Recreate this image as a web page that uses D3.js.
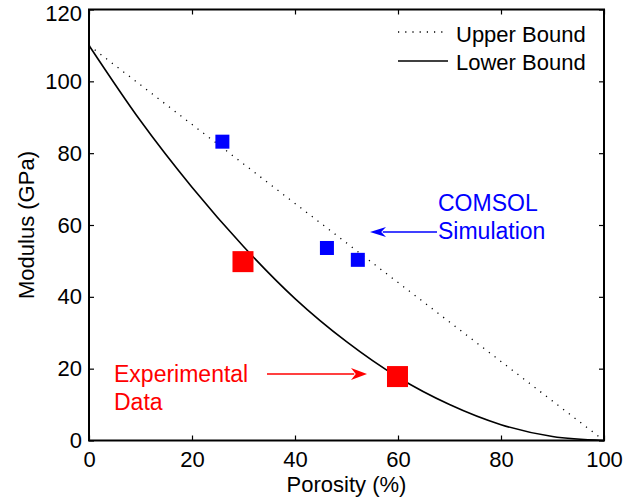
<!DOCTYPE html>
<html>
<head>
<meta charset="utf-8">
<script src="https://cdn.jsdelivr.net/npm/d3@7"></script>
<style>
  html, body { margin: 0; padding: 0; background: #fff; }
  svg { display: block; }
  text { font-family: "Liberation Sans", Arial, Helvetica, sans-serif; }
</style>
</head>
<body>
<svg id="chart" width="641" height="499"></svg>
<script>
// ---- data ----
const xTicks = [0, 20, 40, 60, 80, 100];
const yTicks = [0, 20, 40, 60, 80, 100, 120];
const upperPorosity = [0, 100];
const upperModulus = [110, 0];
const lowerPorosity = [0, 10, 20, 30, 40, 50, 60, 70, 80, 90, 100];
const lowerModulus = [110, 89, 70.5, 54, 39.5, 27.5, 17.6, 10, 4.4, 1.1, 0];
const simPorosity = [25.9, 46.2, 52.2];
const simModulus = [83.2, 53.6, 50.3];
const expPorosity = [29.9, 59.9];
const expModulus = [49.8, 17.8];
const legendLabels = ["Upper Bound", "Lower Bound"];

// ---- layout ----
const svg = d3.select("#chart");
const m = { left: 89, right: 604, top: 9.5, bottom: 440.5 };
const x = d3.scaleLinear().domain([0, 100]).range([m.left, m.right]);
const y = d3.scaleLinear().domain([0, 120]).range([m.bottom, m.top]);
const FS = 22;
const AFS = 23;

// curves
const line = d3.line().x(d => x(d[0])).y(d => y(d[1]));
svg.append("path")
  .datum(d3.zip(upperPorosity, upperModulus))
  .attr("d", line)
  .attr("fill", "none").attr("stroke", "#000").attr("stroke-width", 1.3)
  .attr("stroke-dasharray", "1.2,6");
svg.append("path")
  .datum(d3.zip(lowerPorosity, lowerModulus))
  .attr("d", line.curve(d3.curveMonotoneX))
  .attr("fill", "none").attr("stroke", "#000").attr("stroke-width", 1.6);

// markers
const simSize = 14, expSize = 21;
svg.selectAll("rect.sim").data(d3.zip(simPorosity, simModulus)).join("rect")
  .attr("class", "sim")
  .attr("x", d => x(d[0]) - simSize / 2).attr("y", d => y(d[1]) - simSize / 2)
  .attr("width", simSize).attr("height", simSize).attr("fill", "#0000ff");
svg.selectAll("rect.exp").data(d3.zip(expPorosity, expModulus)).join("rect")
  .attr("class", "exp")
  .attr("x", d => x(d[0]) - expSize / 2).attr("y", d => y(d[1]) - expSize / 2)
  .attr("width", expSize).attr("height", expSize).attr("fill", "#ff0000");

// axes (MATLAB box with inner ticks)
const tl = 5;
const gB = svg.append("g").attr("transform", `translate(0,${m.bottom})`)
  .call(d3.axisBottom(x).tickValues(xTicks).tickSize(-tl).tickPadding(11));
const gT = svg.append("g").attr("transform", `translate(0,${m.top})`)
  .call(d3.axisTop(x).tickValues(xTicks).tickSize(-tl).tickFormat(""));
const gL = svg.append("g").attr("transform", `translate(${m.left},0)`)
  .call(d3.axisLeft(y).tickValues(yTicks).tickSize(-tl).tickPadding(7));
const gR = svg.append("g").attr("transform", `translate(${m.right},0)`)
  .call(d3.axisRight(y).tickValues(yTicks).tickSize(-tl).tickFormat(""));
[gB, gT, gL, gR].forEach(g => {
  g.select(".domain").remove();
  g.selectAll(".tick line").attr("stroke", "#000").attr("stroke-width", 1.2);
  g.selectAll("text").attr("font-size", FS).attr("fill", "#000")
    .attr("font-family", "'Liberation Sans', Arial, sans-serif");
});
// keep the top label inside the picture (as in the reference, it sits a little low)
gL.selectAll(".tick text").filter(d => d === 120).attr("dy", "0.52em");
svg.append("rect").attr("x", m.left).attr("y", m.top)
  .attr("width", m.right - m.left).attr("height", m.bottom - m.top)
  .attr("fill", "none").attr("stroke", "#000").attr("stroke-width", 2);

// axis labels
svg.append("text").attr("x", (m.left + m.right) / 2).attr("y", 492)
  .attr("text-anchor", "middle").attr("font-size", FS).text("Porosity (%)");
svg.append("text").attr("transform", "translate(34,225) rotate(-90)")
  .attr("text-anchor", "middle").attr("font-size", FS).text("Modulus (GPa)");

// legend
const lg = svg.append("g");
lg.append("line").attr("x1", 398).attr("x2", 448).attr("y1", 32).attr("y2", 32)
  .attr("stroke", "#000").attr("stroke-width", 1.3).attr("stroke-dasharray", "1.2,6");
lg.append("line").attr("x1", 398).attr("x2", 448).attr("y1", 61).attr("y2", 61)
  .attr("stroke", "#000").attr("stroke-width", 1.6);
lg.selectAll("text").data(legendLabels).join("text")
  .attr("x", 456).attr("y", (d, i) => 42 + i * 28)
  .attr("font-size", FS).text(d => d);

// annotations
function arrow(x1, x2, yy, color, headL, headW) {
  const dir = Math.sign(x2 - x1);
  svg.append("line").attr("x1", x1).attr("x2", x2 - dir * headL * 0.8).attr("y1", yy).attr("y2", yy)
    .attr("stroke", color).attr("stroke-width", 1.6);
  svg.append("path")
    .attr("d", `M${x2},${yy} L${x2 - dir * headL},${yy - headW} L${x2 - dir * headL * 0.7},${yy} L${x2 - dir * headL},${yy + headW} Z`)
    .attr("fill", color);
}
svg.append("text").attr("x", 438).attr("y", 211).attr("font-size", AFS).attr("fill", "#0000ff").text("COMSOL");
svg.append("text").attr("x", 438).attr("y", 239).attr("font-size", AFS).attr("fill", "#0000ff").text("Simulation");
arrow(437, 370, 232, "#0000ff", 16, 5);
svg.append("text").attr("x", 114).attr("y", 382).attr("font-size", AFS).attr("fill", "#ff0000").text("Experimental");
svg.append("text").attr("x", 114).attr("y", 410).attr("font-size", AFS).attr("fill", "#ff0000").text("Data");
arrow(267, 367, 374, "#ff0000", 16, 6);
</script>
</body>
</html>
